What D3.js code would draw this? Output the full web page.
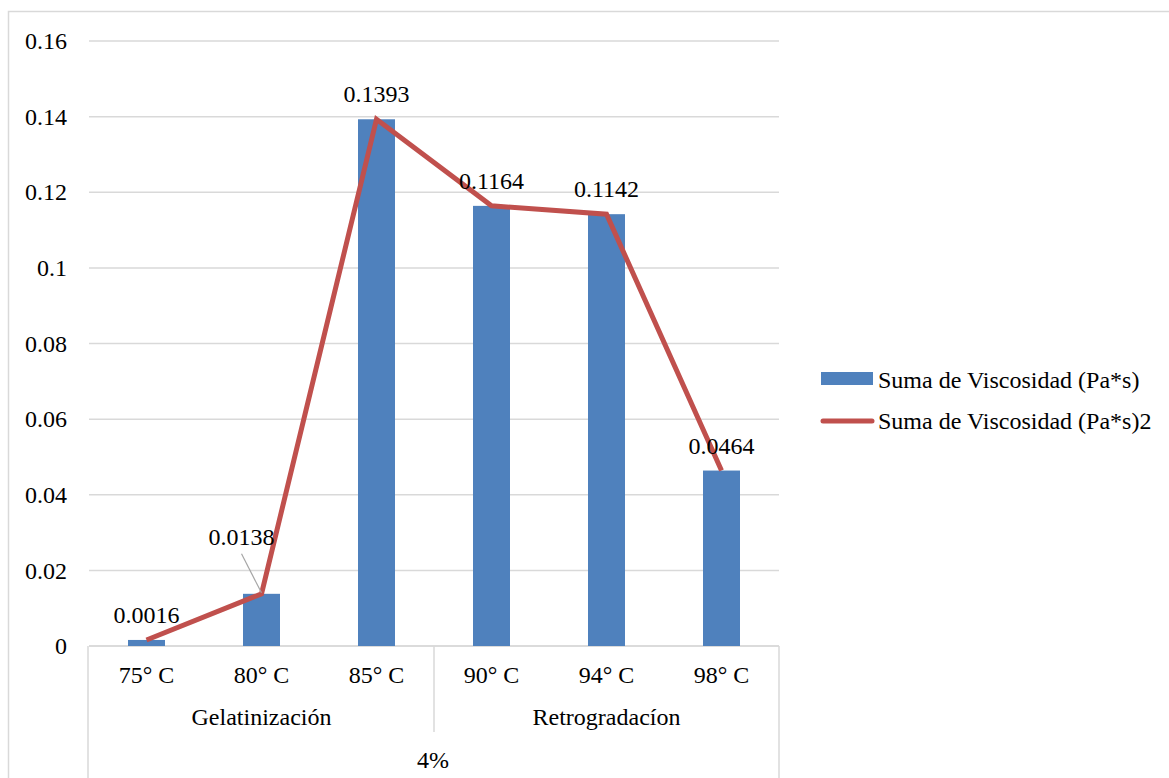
<!DOCTYPE html>
<meta charset="utf-8">
<style>
body { margin: 0; background: #fff; }
text { font-family: "Liberation Serif", "Times New Roman", serif; fill: #000; }
.grid line { stroke: #d9d9d9; stroke-width: 1.5px; }
.frame { fill: none; stroke: #d9d9d9; stroke-width: 1.5px; }
</style>
<svg width="1169" height="778"></svg>
<script src="https://d3js.org/d3.v7.min.js"></script>
<script>

var categories = ["75° C", "80° C", "85° C", "90° C", "94° C", "98° C"];
var groups = ["Gelatinización", "Gelatinización", "Gelatinización", "Retrogradacíon", "Retrogradacíon", "Retrogradacíon"];
var topLabel = "4%";
var viscosity = [0.0016, 0.0138, 0.1393, 0.1164, 0.1142, 0.0464];
var yTicks = [0, 0.02, 0.04, 0.06, 0.08, 0.1, 0.12, 0.14, 0.16];
var seriesNames = ["Suma de Viscosidad (Pa*s)", "Suma de Viscosidad (Pa*s)2"];

var svg = d3.select("svg");
var plotLeft = 89, plotRight = 779, plotTop = 41, plotBottom = 646;
var fs = 24;
var serif = '"Liberation Serif", "Times New Roman", serif';

// outer chart frame
svg.append("rect").attr("class", "frame")
    .attr("x", 8.5).attr("y", 11.5).attr("width", 1200).attr("height", 800);

var x = d3.scaleBand().domain(categories).range([plotLeft, plotRight]);
var y = d3.scaleLinear().domain([0, 0.16]).range([plotBottom, plotTop]);

// gridlines
svg.append("g").attr("class", "grid")
  .selectAll("line").data(yTicks).enter().append("line")
    .attr("x1", plotLeft).attr("x2", plotRight)
    .attr("y1", function(d) { return y(d); })
    .attr("y2", function(d) { return y(d); });

// y axis labels
var yAxis = d3.axisLeft(y).tickValues(yTicks).tickSize(0).tickPadding(22)
    .tickFormat(function(d) { return String(d); });
svg.append("g").attr("transform", "translate(" + plotLeft + ",0)").call(yAxis)
  .call(function(g) {
    g.select(".domain").remove();
    g.selectAll("text").attr("font-size", fs).style("font-family", serif).attr("fill", "#000");
  });

// category axis labels
var catAxis = d3.axisBottom(x).tickSize(0).tickPadding(20);
svg.append("g").attr("transform", "translate(0," + plotBottom + ")").call(catAxis)
  .call(function(g) {
    g.select(".domain").remove();
    g.selectAll("text").attr("font-size", fs).style("font-family", serif).attr("fill", "#000");
  });

var sep = svg.append("g").attr("stroke", "#d9d9d9").attr("stroke-width", 1.5);
sep.append("line").attr("x1", plotLeft - 1).attr("x2", plotLeft - 1).attr("y1", plotBottom).attr("y2", 778);
sep.append("line").attr("x1", plotRight).attr("x2", plotRight).attr("y1", plotBottom).attr("y2", 778);

var groupNames = Array.from(new Set(groups));
groupNames.forEach(function(gname, gi) {
  var members = categories.filter(function(c, i) { return groups[i] === gname; });
  var x0 = x(members[0]), x1 = x(members[members.length - 1]) + x.bandwidth();
  if (gi > 0) {
    sep.append("line").attr("x1", x0).attr("x2", x0).attr("y1", plotBottom).attr("y2", 732);
  }
  svg.append("text").attr("x", (x0 + x1) / 2).attr("y", 725)
    .attr("text-anchor", "middle").attr("font-size", fs).style("font-family", serif).text(gname);
});
svg.append("text").attr("x", (plotLeft + plotRight) / 2 - 1).attr("y", 768)
  .attr("text-anchor", "middle").attr("font-size", fs).style("font-family", serif).text(topLabel);

// bottom axis line
svg.append("line").attr("x1", plotLeft).attr("x2", plotRight).attr("y1", plotBottom).attr("y2", plotBottom)
  .attr("stroke", "#d9d9d9").attr("stroke-width", 1.5);

// bars
var barW = 37;
svg.append("g").selectAll("rect").data(viscosity).enter().append("rect")
    .attr("x", function(d, i) { return x(categories[i]) + x.bandwidth() / 2 - barW / 2; })
    .attr("y", function(d) { return y(d); })
    .attr("width", barW)
    .attr("height", function(d) { return plotBottom - y(d); })
    .attr("fill", "#4f81bd");

// line
var line = d3.line()
    .x(function(d, i) { return x(categories[i]) + x.bandwidth() / 2; })
    .y(function(d) { return y(d); });
svg.append("path").datum(viscosity)
    .attr("d", line)
    .attr("fill", "none")
    .attr("stroke", "#c0504d")
    .attr("stroke-width", 5)
    .attr("stroke-linejoin", "miter");

// data labels (one moved label with leader line)
var nudge = { 1: [-20, -32] };
var lbl = svg.append("g");
viscosity.forEach(function(d, i) {
  var cx = x(categories[i]) + x.bandwidth() / 2;
  var n = nudge[i] || [0, 0];
  var lx = cx + n[0], ly = y(d) - 17 + n[1];
  if (nudge[i]) {
    lbl.append("line").attr("x1", lx).attr("y1", ly + 9).attr("x2", cx).attr("y2", y(d) - 1)
      .attr("stroke", "#a6a6a6").attr("stroke-width", 1.2);
  }
  lbl.append("text").attr("x", lx).attr("y", ly)
    .attr("text-anchor", "middle").attr("font-size", fs).style("font-family", serif).text(d.toFixed(4));
});

// legend
var lg = svg.append("g");
lg.append("rect").attr("x", 821).attr("y", 372).attr("width", 52).attr("height", 13).attr("fill", "#4f81bd");
lg.append("text").attr("x", 878).attr("y", 388).attr("font-size", fs).style("font-family", serif).text(seriesNames[0]);
lg.append("line").attr("x1", 823).attr("x2", 872).attr("y1", 421).attr("y2", 421)
  .attr("stroke", "#c0504d").attr("stroke-width", 5).attr("stroke-linecap", "round");
lg.append("text").attr("x", 878).attr("y", 429).attr("font-size", fs).style("font-family", serif).text(seriesNames[1]);

</script>
